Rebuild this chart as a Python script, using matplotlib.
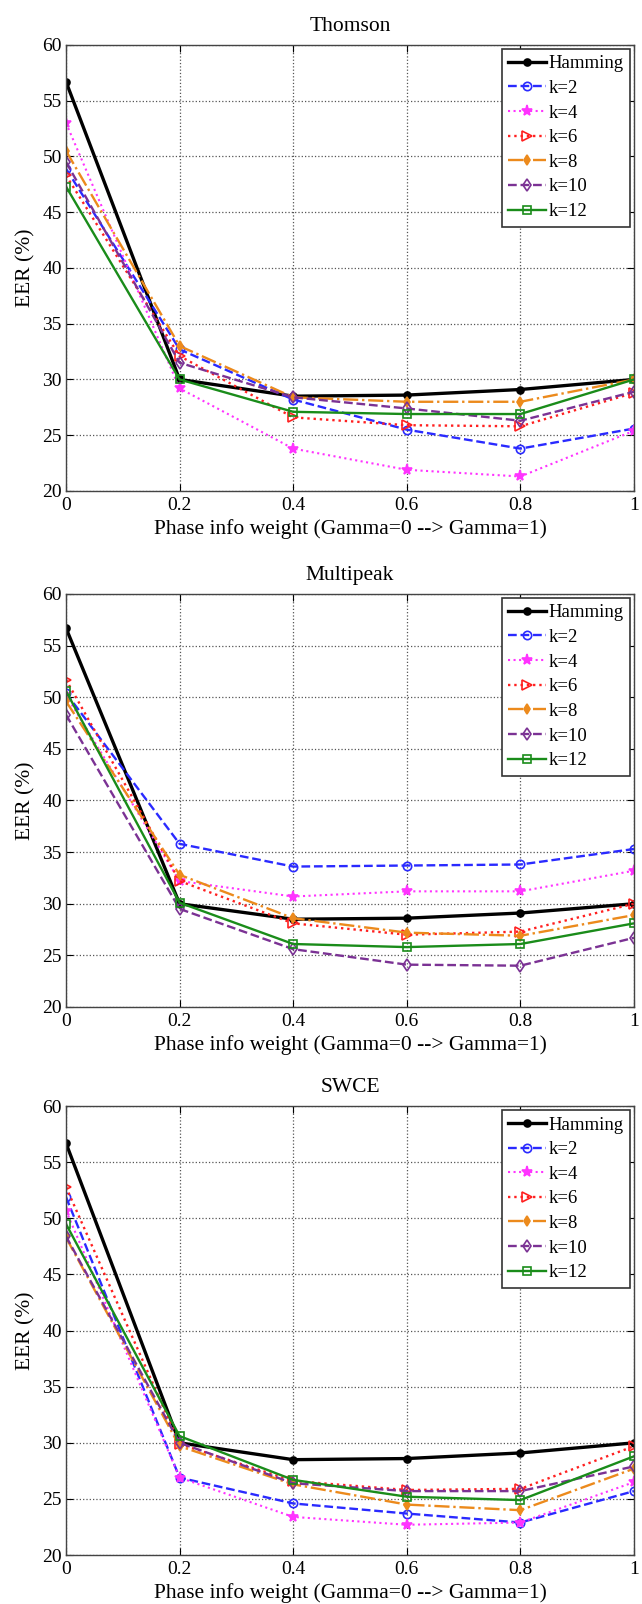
import numpy as np
import matplotlib
matplotlib.use("Agg")
import matplotlib.pyplot as plt

plt.rcParams['font.family'] = ['Liberation Serif', 'DejaVu Serif']

# phase info weight
gamma = [0, 0.2, 0.4, 0.6, 0.8, 1]

labels = ['Hamming', 'k=2', 'k=4', 'k=6', 'k=8', 'k=10', 'k=12']
titles = ['Thomson', 'Multipeak', 'SWCE']

hamming = [56.7, 30.0, 28.5, 28.6, 29.1, 30.0]

# Thomson
thomson_k2 = [48.9, 32.7, 28.2, 25.5, 23.8, 25.6]
thomson_k4 = [53.0, 29.2, 23.8, 21.9, 21.3, 25.4]
thomson_k6 = [48.3, 32.1, 26.6, 25.9, 25.8, 28.8]
thomson_k8 = [50.5, 33.0, 28.4, 28.0, 28.0, 30.0]
thomson_k10 = [49.5, 31.5, 28.4, 27.4, 26.3, 28.9]
thomson_k12 = [47.3, 30.0, 27.1, 26.9, 26.9, 30.0]

# Multipeak
multi_k2 = [50.4, 35.8, 33.6, 33.7, 33.8, 35.3]
multi_k4 = [50.2, 32.2, 30.7, 31.2, 31.2, 33.2]
multi_k6 = [51.7, 32.2, 28.1, 27.0, 27.3, 30.0]
multi_k8 = [49.6, 32.8, 28.6, 27.2, 26.9, 28.9]
multi_k10 = [48.3, 29.5, 25.6, 24.1, 24.0, 26.7]
multi_k12 = [50.6, 30.1, 26.1, 25.8, 26.1, 28.1]

# SWCE
swce_k2 = [51.9, 26.9, 24.6, 23.7, 22.9, 25.7]
swce_k4 = [50.7, 26.9, 23.4, 22.7, 22.9, 26.5]
swce_k6 = [52.8, 29.9, 26.6, 25.8, 25.9, 29.7]
swce_k8 = [48.3, 29.7, 26.3, 24.5, 24.0, 27.7]
swce_k10 = [48.4, 30.0, 26.4, 25.7, 25.7, 27.9]
swce_k12 = [49.5, 30.6, 26.7, 25.2, 24.9, 28.8]

panels = [
    [hamming, thomson_k2, thomson_k4, thomson_k6, thomson_k8, thomson_k10, thomson_k12],
    [hamming, multi_k2, multi_k4, multi_k6, multi_k8, multi_k10, multi_k12],
    [hamming, swce_k2, swce_k4, swce_k6, swce_k8, swce_k10, swce_k12],
]

styles = [
    dict(color='black', ls='-', marker='o', ms=5, mfc='black', lw=2.4),
    dict(color='#2a2aff', ls='--', marker='o', ms=6, mfc='none', lw=1.7),
    dict(color='#ff33ff', ls=':', marker='*', ms=8, mfc='#ff33ff', lw=1.5),
    dict(color='#ff2020', ls=':', marker='>', ms=7, mfc='none', lw=1.7),
    dict(color='#ec8a1c', ls='-.', marker='d', ms=5, mfc='#ec8a1c', lw=1.7),
    dict(color='#7b3294', ls='--', marker='d', ms=6, mfc='none', lw=1.7),
    dict(color='#1a8c1a', ls='-', marker='s', ms=6, mfc='none', lw=1.7),
]

fig = plt.figure(figsize=(6.42, 16.04), dpi=100)

bottoms = [0.6939, 0.3722, 0.0305]
heights = [0.2781, 0.2575, 0.2799]

for p in range(3):
    ax = fig.add_axes([0.1028, bottoms[p], 0.8847, heights[p]])
    for series, lab, st in zip(panels[p], labels, styles):
        ax.plot(gamma, series, label=lab, mew=1.2, **st)
    ax.set_xlim(0, 1)
    ax.set_ylim(20, 60)
    ax.set_xticks(gamma)
    ax.set_xticklabels(['0', '0.2', '0.4', '0.6', '0.8', '1'])
    ax.set_yticks(np.arange(20, 61, 5))
    ax.grid(True, ls=':', color='#555555', lw=0.9)
    ax.tick_params(direction='in', top=True, right=True, labelsize=14, length=5)
    ax.tick_params(axis='y', pad=3)
    ax.tick_params(axis='x', pad=4)
    for s in ax.spines.values():
        s.set_color('#444444')
        s.set_linewidth(1.0)
    ax.set_title(titles[p], fontsize=15.5, pad=10)
    ax.set_xlabel('Phase info weight (Gamma=0 --> Gamma=1)', fontsize=15.5, labelpad=4)
    ax.set_ylabel('EER (%)', fontsize=15.5, labelpad=5)
    leg = ax.legend(loc='upper right', fontsize=13.5, fancybox=False, edgecolor='#333333',
                    framealpha=1, handlelength=2.0, handletextpad=0.15, labelspacing=0.4,
                    borderpad=0.35, borderaxespad=0.2)
    leg.get_frame().set_linewidth(1.2)

fig.savefig('out.png', dpi=100)
